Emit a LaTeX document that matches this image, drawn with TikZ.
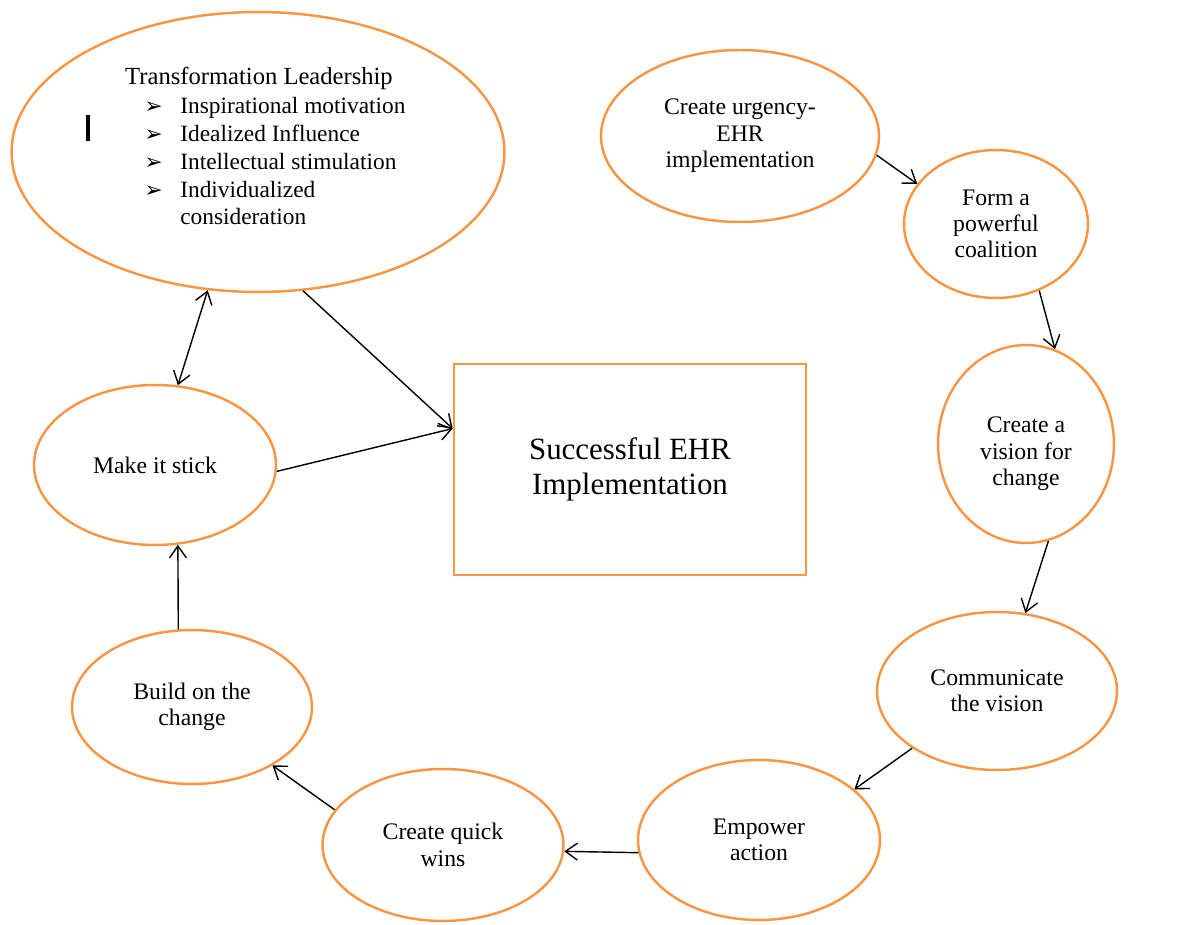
\documentclass[tikz,border=0pt]{standalone}
\usepackage{fontspec}
\setmainfont{Liberation Serif}
\newfontfamily\dingfont{DejaVu Sans}
\usetikzlibrary{arrows.meta,shapes.geometric,positioning}
\definecolor{ringorange}{HTML}{F79646}

\begin{document}
\begin{tikzpicture}[x=0.02cm, y=-0.02cm,
    phasebox/.style={ellipse, draw=ringorange, line width=1.4pt, align=center,
                     inner sep=0pt, font=\fontsize{13.5}{15}\selectfont},
    resultbox/.style={draw=ringorange, line width=1.6pt, align=center,
                      inner sep=0pt, font=\fontsize{17.6}{19.5}\selectfont},
    flowarrow/.style={-{Straight Barb[length=2.4mm,width=3.4mm]}, line width=0.8pt},
    bothways/.style={{Straight Barb[length=2.4mm,width=3.4mm]}-{Straight Barb[length=2.4mm,width=3.4mm]},
                     line width=0.8pt},
  ]
  \useasboundingbox (0,0) rectangle (1177,925);

  % === Leadership ellipse ===
  \node[phasebox, minimum width=98.6mm, minimum height=56mm] (lead) at (258,152) {};
  \node[font=\fontsize{14}{16}\selectfont] (leadtitle) at (259,78) {Transformation Leadership};
  \node[anchor=north west, inner sep=0pt, font=\fontsize{13.3}{15.8}\selectfont] (leadlist) at (144,94) {%
    \begin{tabular}{@{}l@{\hspace{10pt}}l@{}}
      {\dingfont\fontsize{12.5}{12}\selectfont ➢} & Inspirational motivation\\
      {\dingfont\fontsize{12.5}{12}\selectfont ➢} & Idealized Influence\\
      {\dingfont\fontsize{12.5}{12}\selectfont ➢} & Intellectual stimulation\\
      {\dingfont\fontsize{12.5}{12}\selectfont ➢} & Individualized\\
      & consideration
    \end{tabular}};
  \node[inner sep=0pt] (cursor) at (88,128) {\rule{2.3pt}{15.3pt}};

  % === Change steps ===
  \node[phasebox, minimum width=55.6mm, minimum height=34.4mm] (urgency) at (740,136) {Create urgency-\\EHR\\implementation};
  \node[phasebox, minimum width=36.8mm, minimum height=29.6mm] (coalition) at (996,224) {Form a\\powerful\\coalition};
  \node[phasebox, minimum width=35.2mm, minimum height=39.6mm,
        label={[align=center, font=\fontsize{13.5}{15}\selectfont, yshift=-2mm]center:Create a\\vision for\\change}] (vision) at (1026,444) {};
  \node[phasebox, minimum width=48mm, minimum height=31.6mm] (communicate) at (997,691) {Communicate\\the vision};
  \node[phasebox, minimum width=48.4mm, minimum height=32mm] (empower) at (759,840) {Empower\\action};
  \node[phasebox, minimum width=48.2mm, minimum height=30.4mm] (wins) at (443,845) {Create quick\\wins};
  \node[phasebox, minimum width=48mm, minimum height=30.8mm] (build) at (192,707) {Build on the\\change};
  \node[phasebox, minimum width=48.4mm, minimum height=32mm] (stick) at (155,465) {Make it stick};

  % === Outcome ===
  \node[resultbox, minimum width=70.4mm, minimum height=42.2mm] (result) at (630,469.5) {Successful EHR\\Implementation};

  % Arrows
  \draw[flowarrow] (urgency.-8) -- (coalition.153);
  \draw[flowarrow] (coalition.-57) -- (vision.73);
  \draw[flowarrow] (vision.-77) -- (communicate.70);
  \draw[flowarrow] (communicate.-146) -- (empower.28);
  \draw[flowarrow] (empower.-174) -- (wins.-3);
  \draw[flowarrow] (wins.162) -- (build.-36);
  \draw[flowarrow] (build.100) -- (stick.-74);
  \draw[bothways] (stick.74) -- (lead.-110);
  \draw[flowarrow] (lead.-72) -- (result.167);
  \draw[flowarrow] (stick.-3) -- (result.167);

\end{tikzpicture}
\end{document}
